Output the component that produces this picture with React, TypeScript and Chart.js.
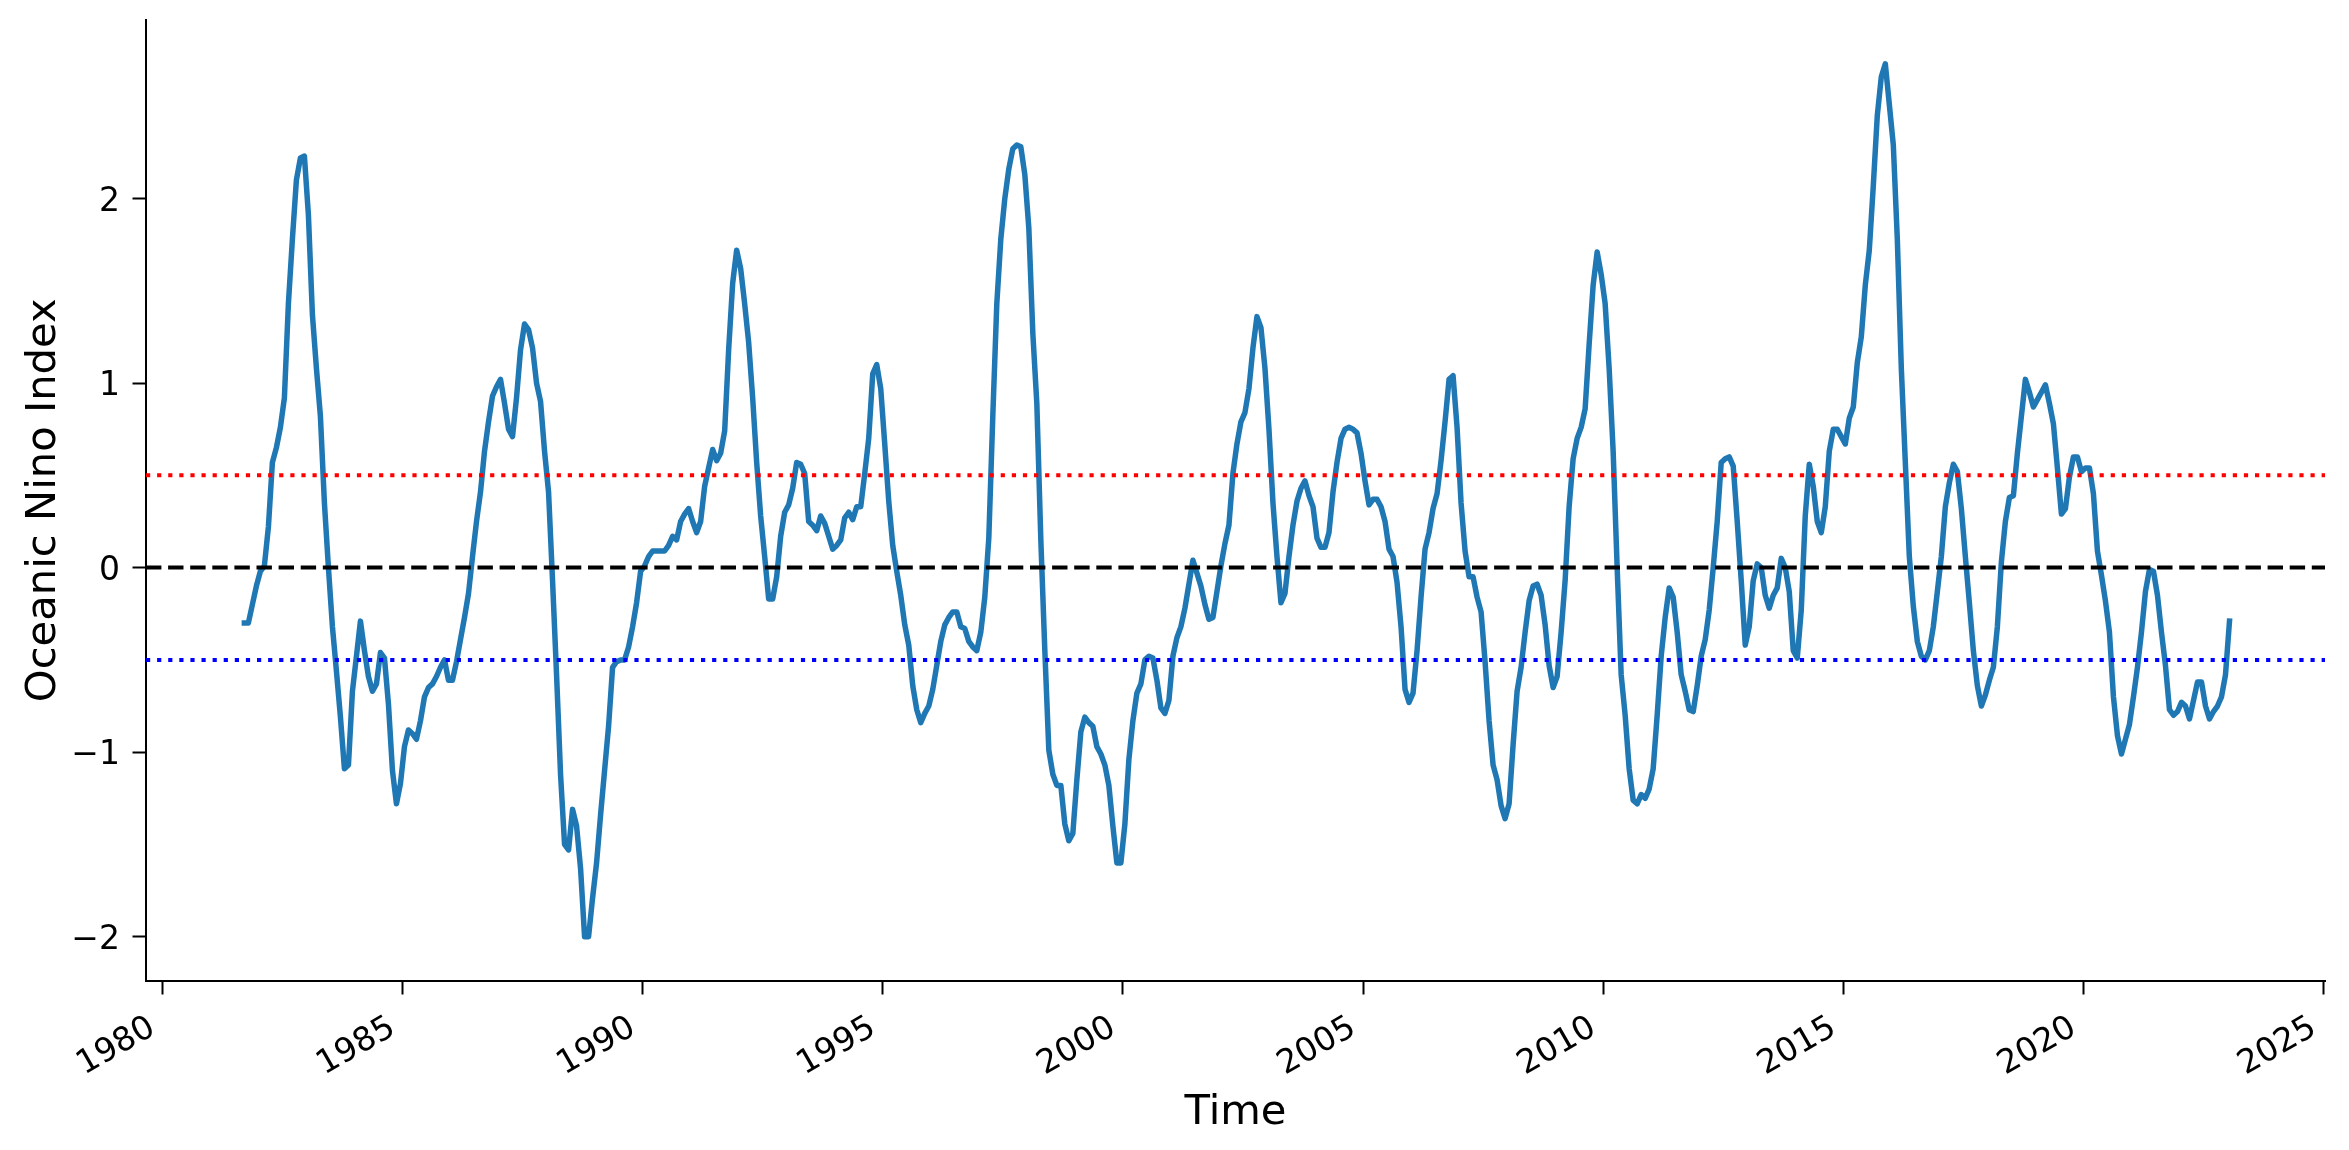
import { useEffect, useRef } from "react";
import { Chart, registerables } from "chart.js";

Chart.register(...registerables);

// Monthly series (mid-month), first value = September 1981
const START_YEAR = 1981;
const START_MONTH = 9;

const oni1981to1989 = [
  -0.30, -0.30, -0.20, -0.10, -0.02, 0.01, 0.22, 0.57, 0.65, 0.76,
  0.92, 1.43, 1.78, 2.10, 2.22, 2.23, 1.91, 1.37, 1.08, 0.82,
  0.35, 0.00, -0.32, -0.56, -0.81, -1.09, -1.07, -0.67, -0.48, -0.29,
  -0.45, -0.59, -0.67, -0.63, -0.46, -0.49, -0.74, -1.10, -1.28, -1.17,
  -0.97, -0.88, -0.90, -0.93, -0.83, -0.70, -0.65, -0.63, -0.59, -0.54,
  -0.50, -0.61, -0.61, -0.51, -0.39, -0.27, -0.14, 0.06, 0.25, 0.41,
  0.63, 0.79, 0.93, 0.98, 1.02, 0.89, 0.75, 0.71, 0.92, 1.18,
  1.32, 1.29, 1.19, 1.00, 0.90, 0.63, 0.41, -0.07, -0.58, -1.12,
  -1.50, -1.53, -1.31, -1.40, -1.63, -2.00, -2.00, -1.79, -1.60, -1.34,
  -1.10, -0.86, -0.54, -0.51, -0.50, -0.50, -0.43, -0.32, -0.19, -0.02,
];

const oni1990s = [
  0.01, 0.06, 0.09, 0.09, 0.09, 0.09, 0.12, 0.17, 0.15, 0.25,
  0.29, 0.32, 0.25, 0.19, 0.25, 0.44, 0.54, 0.64, 0.58, 0.62,
  0.74, 1.18, 1.54, 1.72, 1.62, 1.43, 1.22, 0.92, 0.57, 0.28,
  0.06, -0.17, -0.17, -0.05, 0.17, 0.30, 0.34, 0.43, 0.57, 0.56,
  0.51, 0.25, 0.23, 0.20, 0.28, 0.24, 0.17, 0.10, 0.12, 0.15,
  0.27, 0.30, 0.26, 0.33, 0.33, 0.51, 0.70, 1.05, 1.10, 0.97,
  0.67, 0.36, 0.12, -0.02, -0.15, -0.31, -0.42, -0.64, -0.77, -0.84,
  -0.79, -0.75, -0.66, -0.53, -0.40, -0.31, -0.27, -0.24, -0.24, -0.32,
  -0.33, -0.40, -0.43, -0.45, -0.35, -0.16, 0.16, 0.82, 1.43, 1.78,
  2.00, 2.16, 2.27, 2.29, 2.28, 2.13, 1.84, 1.27, 0.89, 0.15,
  -0.45, -0.99, -1.12, -1.18, -1.18, -1.39, -1.48, -1.44, -1.15, -0.89,
  -0.81, -0.84, -0.86, -0.97, -1.01, -1.07, -1.18, -1.40, -1.60, -1.60,
];

const oni2000s = [
  -1.39, -1.04, -0.83, -0.68, -0.63, -0.50, -0.48, -0.49, -0.61, -0.76,
  -0.79, -0.72, -0.48, -0.38, -0.32, -0.22, -0.09, 0.04, -0.03, -0.10,
  -0.20, -0.28, -0.27, -0.13, 0.01, 0.13, 0.23, 0.51, 0.67, 0.79,
  0.84, 0.97, 1.19, 1.36, 1.30, 1.08, 0.75, 0.35, 0.06, -0.19,
  -0.14, 0.06, 0.23, 0.36, 0.43, 0.47, 0.39, 0.33, 0.16, 0.11,
  0.11, 0.19, 0.41, 0.57, 0.70, 0.75, 0.76, 0.75, 0.73, 0.62,
  0.47, 0.34, 0.37, 0.37, 0.33, 0.25, 0.10, 0.06, -0.08, -0.32,
  -0.66, -0.73, -0.68, -0.45, -0.16, 0.10, 0.19, 0.32, 0.40, 0.58,
  0.79, 1.02, 1.04, 0.76, 0.35, 0.09, -0.05, -0.05, -0.16, -0.24,
  -0.51, -0.83, -1.07, -1.15, -1.29, -1.36, -1.28, -0.96, -0.67, -0.54,
  -0.35, -0.18, -0.10, -0.09, -0.15, -0.31, -0.53, -0.65, -0.59, -0.35,
  -0.07, 0.33, 0.59, 0.70, 0.76, 0.86, 1.21, 1.53, 1.71, 1.59,
];

const oni2010s = [
  1.43, 1.08, 0.63, 0.00, -0.58, -0.80, -1.09, -1.26, -1.28, -1.23,
  -1.25, -1.20, -1.09, -0.80, -0.48, -0.27, -0.11, -0.16, -0.35, -0.58,
  -0.67, -0.77, -0.78, -0.64, -0.48, -0.39, -0.23, 0.00, 0.25, 0.57,
  0.59, 0.60, 0.55, 0.25, -0.07, -0.42, -0.32, -0.07, 0.02, 0.00,
  -0.15, -0.22, -0.15, -0.11, 0.05, 0.00, -0.13, -0.45, -0.49, -0.23,
  0.28, 0.56, 0.44, 0.25, 0.19, 0.33, 0.63, 0.75, 0.75, 0.71,
  0.67, 0.81, 0.87, 1.11, 1.25, 1.53, 1.72, 2.07, 2.45, 2.66,
  2.73, 2.51, 2.29, 1.78, 1.08, 0.57, 0.06, -0.21, -0.40, -0.48,
  -0.50, -0.45, -0.32, -0.13, 0.06, 0.33, 0.46, 0.56, 0.52, 0.32,
  0.06, -0.19, -0.45, -0.64, -0.75, -0.69, -0.61, -0.54, -0.32, 0.03,
  0.25, 0.38, 0.39, 0.62, 0.82, 1.02, 0.95, 0.87, 0.91, 0.95,
  0.99, 0.89, 0.78, 0.54, 0.29, 0.32, 0.49, 0.60, 0.60, 0.52,
];

const oni2020s = [
  0.54, 0.54, 0.40, 0.09, -0.04, -0.18, -0.35, -0.70, -0.91, -1.01,
  -0.93, -0.85, -0.70, -0.54, -0.35, -0.13, -0.01, -0.02, -0.15, -0.35,
  -0.53, -0.77, -0.80, -0.78, -0.73, -0.75, -0.82, -0.72, -0.62, -0.62,
  -0.75, -0.82, -0.78, -0.75, -0.70, -0.58, -0.29,
];

const xTicks = [1980, 1985, 1990, 1995, 2000, 2005, 2010, 2015, 2020, 2025];
const yTicks = [-2, -1, 0, 1, 2];
const elNinoThreshold = 0.5;
const laNinaThreshold = -0.5;
const zeroLine = 0;

const X_MIN = 1979.66;
const X_MAX = 2025.03;
const Y_MIN = -2.24;
const Y_MAX = 2.97;

const xTitle = "Time";
const yTitle = "Oceanic Nino Index";

const W = 2349;
const H = 1150;
const FONT = '"DejaVu Sans", "Liberation Sans", sans-serif';
const TICK_FONT = 33;
const LABEL_FONT = 41.7;

function fmt(v: number): string {
  return v < 0 ? "\u2212" + Math.abs(v) : String(v);
}

const mplText = {
  id: "mplText",
  afterDraw(chart: any) {
    const ctx = chart.ctx;
    const xs = chart.scales.x;
    const ys = chart.scales.y;
    const area = chart.chartArea;
    ctx.save();
    ctx.fillStyle = "#000";
    ctx.font = `${TICK_FONT}px ${FONT}`;
    ctx.textBaseline = "alphabetic";
    ctx.textAlign = "right";
    yTicks.forEach((v) => {
      const y = ys.getPixelForValue(v);
      ctx.fillText(fmt(v), area.left - 26, y + 12);
    });
    xTicks.forEach((v) => {
      const x = xs.getPixelForValue(v);
      ctx.save();
      ctx.translate(x - 5.4, area.bottom + 52);
      ctx.rotate(-Math.PI / 6);
      ctx.textAlign = "right";
      ctx.fillText(String(v), 0, 0);
      ctx.restore();
    });
    ctx.font = `${LABEL_FONT}px ${FONT}`;
    ctx.textAlign = "center";
    ctx.fillText(xTitle, (area.left + area.right) / 2, 1124);
    ctx.save();
    ctx.translate(55, (area.top + area.bottom) / 2);
    ctx.rotate(-Math.PI / 2);
    ctx.fillText(yTitle, 0, 0);
    ctx.restore();
    ctx.restore();
  },
};

export default function App() {
  const ref = useRef<HTMLCanvasElement>(null);

  useEffect(() => {
    if (!ref.current) return;
    const values = [...oni1981to1989, ...oni1990s, ...oni2000s, ...oni2010s, ...oni2020s];
    const series = values.map((v, i) => ({
      x: START_YEAR + (START_MONTH - 1 + 0.5 + i) / 12,
      y: v,
    }));
    const hline = (y: number) => [
      { x: X_MIN, y },
      { x: X_MAX, y },
    ];

    const chart = new Chart(ref.current, {
      type: "line",
      data: {
        datasets: [
          {
            data: hline(zeroLine),
            borderColor: "#000000",
            borderWidth: 4,
            borderDash: [15.4, 6.7],
            borderCapStyle: "butt",
            pointRadius: 0,
          },
          {
            data: hline(elNinoThreshold),
            borderColor: "#ff0000",
            borderWidth: 4,
            borderDash: [4.2, 6.9],
            borderCapStyle: "butt",
            pointRadius: 0,
          },
          {
            data: hline(laNinaThreshold),
            borderColor: "#0000ff",
            borderWidth: 4,
            borderDash: [4.2, 6.9],
            borderCapStyle: "butt",
            pointRadius: 0,
          },
          {
            data: series,
            borderColor: "#1f77b4",
            borderWidth: 5.5,
            borderJoinStyle: "round",
            borderCapStyle: "square",
            pointRadius: 0,
            tension: 0,
          },
        ],
      },
      options: {
        responsive: false,
        devicePixelRatio: 1,
        animation: false,
        events: [],
        layout: { padding: { top: 19.5, right: 24, bottom: 0, left: 0 } },
        plugins: { legend: { display: false }, tooltip: { enabled: false } },
        scales: {
          x: {
            type: "linear",
            min: X_MIN,
            max: X_MAX,
            afterBuildTicks: (s: any) => {
              s.ticks = xTicks.map((v) => ({ value: v }));
            },
            afterFit: (s: any) => {
              s.height = H - 981;
            },
            ticks: { display: false, autoSkip: false },
            grid: {
              display: true,
              drawOnChartArea: false,
              drawTicks: true,
              tickLength: 13.5,
              tickWidth: 2,
              tickColor: "#000",
            },
            border: { display: true, color: "#000", width: 2 },
          },
          y: {
            type: "linear",
            min: Y_MIN,
            max: Y_MAX,
            afterBuildTicks: (s: any) => {
              s.ticks = yTicks.map((v) => ({ value: v }));
            },
            afterFit: (s: any) => {
              s.width = 146;
            },
            ticks: { display: false, autoSkip: false },
            grid: {
              display: true,
              drawOnChartArea: false,
              drawTicks: true,
              tickLength: 13.5,
              tickWidth: 2,
              tickColor: "#000",
            },
            border: { display: true, color: "#000", width: 2 },
          },
        },
      },
      plugins: [mplText],
    });
    return () => chart.destroy();
  }, []);

  return (
    <div style={{ position: "absolute", left: 0, top: 0, width: W, height: H, background: "#fff" }}>
      <canvas ref={ref} width={W} height={H} style={{ width: W, height: H, display: "block" }} />
    </div>
  );
}
